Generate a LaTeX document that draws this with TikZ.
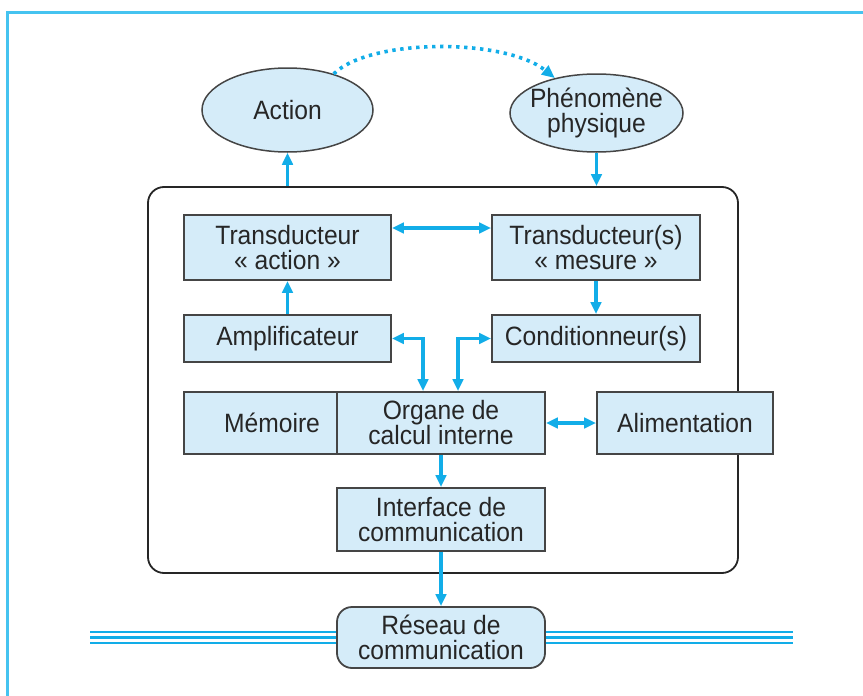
\documentclass[tikz,border=0pt]{standalone}
\usepackage{fontspec}
\setmainfont{Liberation Sans}
\newfontfamily\labelfont[FakeStretch=0.93]{Liberation Sans}
\usetikzlibrary{shapes.geometric,arrows.meta}
\definecolor{linkcyan}{HTML}{12ADE8}
\definecolor{framecyan}{HTML}{45C3F0}
\definecolor{boxfill}{HTML}{D5ECF9}
\definecolor{boxline}{HTML}{454545}
\definecolor{txt}{HTML}{262626}
\tikzset{
  unit/.style={draw=boxline, line width=1.8pt, fill=boxfill, inner sep=0pt,
    text=txt, align=center, font=\labelfont\fontsize{26.5}{25}\selectfont},
  blockbox/.style={unit, rectangle},
  ovalbox/.style={unit, ellipse, line width=1.5pt, inner xsep=-16pt},
  netbox/.style={unit, rectangle, rounded corners=15pt},
  housing/.style={draw=black!85, line width=1.8pt, rounded corners=16pt, inner sep=0pt},
  tip/.tip={Triangle[length=12pt,width=10.5pt]},
  link/.style={draw=linkcyan, line width=3.2pt, -tip},
  duallink/.style={link, tip-tip},
  effect/.style={draw=linkcyan, line width=3.6pt, dash pattern=on 3.4pt off 4.6pt,
    -{Triangle[length=13pt,width=11pt]}},
  busline/.style={draw=linkcyan, line width=2.4pt},
}
\begin{document}
\begin{tikzpicture}[x=1pt,y=-1pt]
\useasboundingbox (0,0) rectangle (863,696);

% page frame
\draw[framecyan, line width=3pt] (7,696) -- (7,12) -- (863,12);

% housing of the instrument
\node[housing, minimum width=590pt, minimum height=386pt] (housing) at (443,380) {};

% outside world
\node[ovalbox, minimum width=171pt, minimum height=84pt] (action) at (287.5,110) {Action};
\node[ovalbox, minimum width=173pt, minimum height=78pt] (phen) at (596.5,113) {Phénomène\\physique};

% inner blocks
\node[blockbox, minimum width=207pt, minimum height=65pt] (transA) at (287.5,247.5) {Transducteur\\« action »};
\node[blockbox, minimum width=208pt, minimum height=65pt] (transM) at (596,247.5) {Transducteur(s)\\« mesure »};
\node[blockbox, minimum width=207pt, minimum height=47pt] (ampli) at (287.5,338.5) {Amplificateur};
\node[blockbox, minimum width=208pt, minimum height=47pt] (cond) at (596,338.5) {Conditionneur(s)};
\node[blockbox, minimum width=153pt, minimum height=62pt] (memoire) at (260.5,423) {\hspace*{23pt}Mémoire};
\node[blockbox, minimum width=208pt, minimum height=62pt] (organe) at (441,423) {Organe de\\calcul interne};
\node[blockbox, minimum width=176pt, minimum height=62pt] (alim) at (685,423) {Alimentation};
\node[blockbox, minimum width=208pt, minimum height=63pt] (interface) at (441,519.5) {Interface de\\communication};

% network
\node[netbox, minimum width=208pt, minimum height=61pt] (reseau) at (441,637.5) {Réseau de\\communication};
\coordinate (busL) at (90,637.5);
\coordinate (busR) at (793,637.5);
\foreach \dy in {-5.5,0,5.5} {
  \draw[busline] ([yshift=\dy pt]busL) -- ([yshift=\dy pt]reseau.west);
  \draw[busline] ([yshift=\dy pt]reseau.east) -- ([yshift=\dy pt]busR);
}

% links
\draw[effect] (action.38) .. controls (370,38) and (505,38) .. (phen.140);
\draw[link] (housing.north -| action.south) -- (action.south);
\draw[link] (phen.south) -- (housing.north -| phen.south);
\draw[duallink] ([yshift=19.5pt]transA.east) -- ([yshift=19.5pt]transM.west);
\draw[link] (ampli.north) -- (transA.south);
\draw[link] (transM.south) -- (cond.north);
\draw[duallink] (ampli.east) -| ([xshift=-18pt]organe.north);
\draw[duallink] (cond.west) -| ([xshift=17pt]organe.north);
\draw[duallink] (organe.east) -- (alim.west);
\draw[link] (organe.south) -- (interface.north);
\draw[link] (interface.south) -- (reseau.north);
\end{tikzpicture}
\end{document}
